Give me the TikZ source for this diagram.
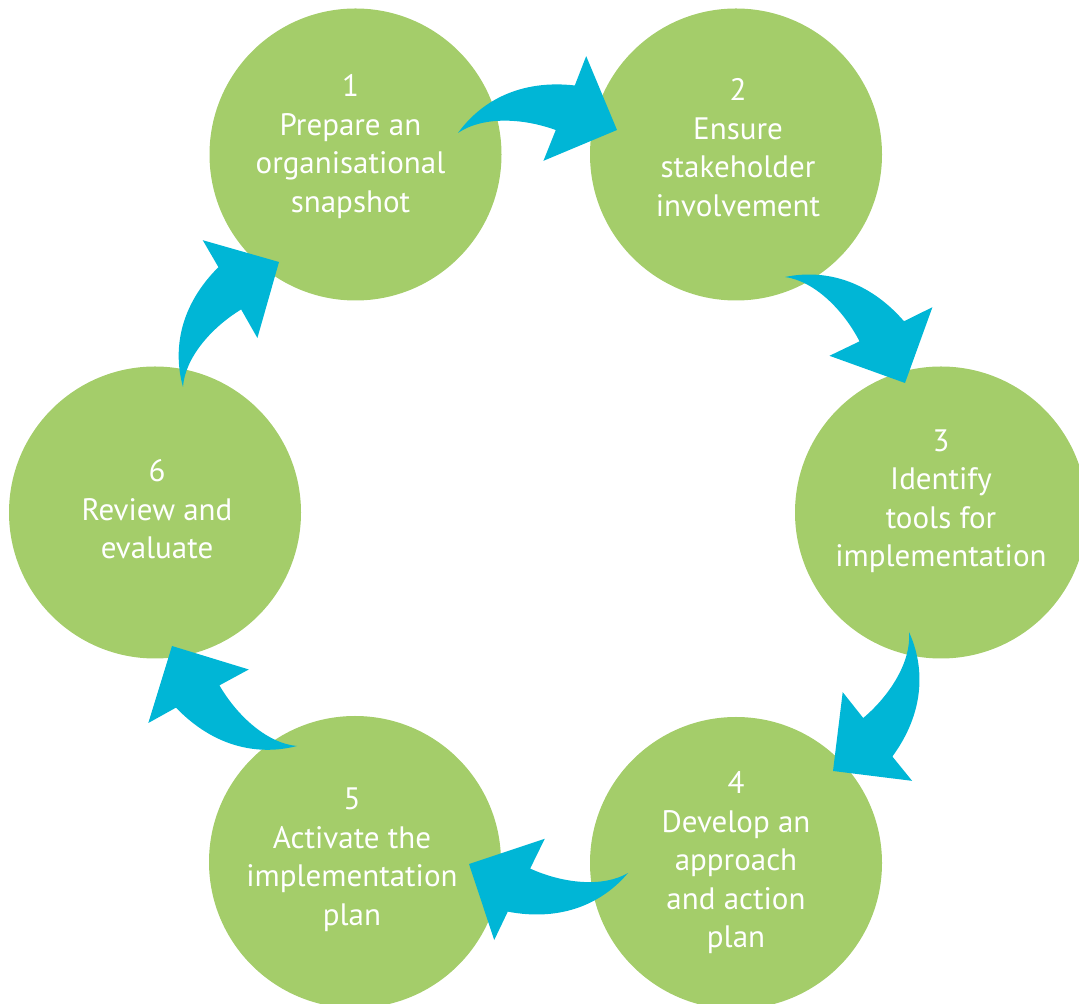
\documentclass[tikz,border=0pt]{standalone}
\usepackage{fontspec}
\setmainfont{PT Sans}
\usetikzlibrary{calc}

\definecolor{stagegreen}{RGB}{164,205,106}
\definecolor{arrowblue}{RGB}{0,182,214}

\newcommand\cyclearrow[2]{%
  \coordinate (tail) at #1;
  \coordinate (tip) at #2;
  \coordinate (side) at ($(tail)!1!90:(tip)$);
  \fill[arrowblue, x={($(tip)-(tail)$)}, y={($(side)-(tail)$)}, shift={(tail)}]
    (0,0) .. controls (0.15,0.2) and (0.4,0.33) .. (0.74,0.285)
    -- (0.815,0.468) -- (1,0) -- (0.534,-0.185) -- (0.615,0.007)
    .. controls (0.4,0.09) and (0.15,0.1) .. cycle;
}

\begin{document}
\begin{tikzpicture}[x=1pt,y=1pt,
  stage/.style={circle, fill=stagegreen, minimum size=292pt, inner sep=0pt},
  stagetext/.style={text=white, align=center, inner sep=0pt,
    font=\fontsize{31}{38.5}\selectfont}]
\useasboundingbox (0,0) rectangle (1079,1004);

\node[stage] (s1) at (355.5,849.5) {};
\node[stage] (s2) at (736,849.5) {};
\node[stage] (s3) at (941,491.5) {};
\node[stage] (s4) at (736,141) {};
\node[stage] (s5) at (355,142) {};
\node[stage] (s6) at (155,491.5) {};

\node[stagetext] (t1) at ($(s1)+(-5,8)$) {1\\Prepare an\\organisational\\snapshot};
\node[stagetext] (t2) at ($(s2)+(2,7)$) {2\\Ensure\\stakeholder\\involvement};
\node[stagetext] (t3) at ($(s3)+(0,11)$) {3\\Identify\\tools for\\implementation};
\node[stagetext] (t4) at ($(s4)+(0,0)$) {4\\Develop an\\approach\\and action\\plan};
\node[stagetext] (t5) at ($(s5)+(-3,2)$) {5\\Activate the\\implementation\\plan};
\node[stagetext] (t6) at ($(s6)+(2,3)$) {6\\Review and\\evaluate};

\cyclearrow{($(s1)+(102.5,21.5)$)}{($(s2)+(-119,24.5)$)}
\cyclearrow{($(s2)+(49,-122.5)$)}{($(s3)+(-36,129.5)$)}
\cyclearrow{($(s3)+(-32,-119.5)$)}{($(s4)+(97,92)$)}
\cyclearrow{($(s4)+(-108,-10)$)}{($(s5)+(114,-2)$)}
\cyclearrow{($(s5)+(-58,116)$)}{($(s6)+(17,-133.5)$)}
\cyclearrow{($(s6)+(28,125.5)$)}{($(s1)+(-76.5,-107.5)$)}
\end{tikzpicture}
\end{document}
